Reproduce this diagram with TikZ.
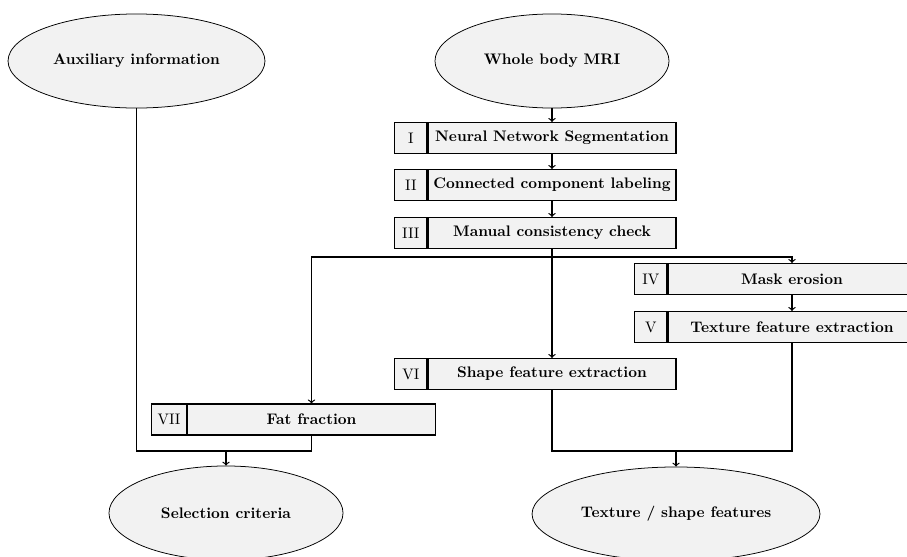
\documentclass[tikz,border=0pt]{standalone}
\usetikzlibrary{shapes.geometric}
\begin{document}
\begin{tikzpicture}[x=0.655pt,y=-0.655pt,
  ell/.style={ellipse,draw,line width=0.5pt,fill=gray!10,font=\bfseries,inner sep=0pt},
  mainbox/.style={rectangle,draw,line width=0.8pt,fill=gray!10,font=\bfseries,
    minimum width=162.4pt,minimum height=20.2pt,inner sep=0pt},
  numbox/.style={rectangle,draw,line width=0.8pt,fill=gray!10,
    minimum width=21pt,minimum height=20.2pt,inner xsep=3.8pt,inner ysep=0pt,anchor=east},
  conn/.style={line width=0.8pt},
  arr/.style={conn,->}]
\useasboundingbox (0,0) rectangle (907,556);
% ellipses
\node[ell,minimum width=168.3pt,minimum height=61.6pt] (aux) at (136.5,61) {Auxiliary information};
\node[ell,minimum width=153.3pt,minimum height=61.6pt] (mri) at (552,61) {Whole body MRI};
\node[ell,minimum width=153.3pt,minimum height=61.6pt] (sel) at (226,513) {Selection criteria};
\node[ell,minimum width=188.6pt,minimum height=61.6pt] (tex) at (676,514) {Texture / shape features};
% steps
\node[mainbox] (m1) at (552,138) {Neural Network Segmentation};
\node[numbox] (n1) at (m1.west) {I};
\node[mainbox] (m2) at (552,185) {Connected component labeling};
\node[numbox] (n2) at (m2.west) {II};
\node[mainbox] (m3) at (552,233) {Manual consistency check};
\node[numbox] (n3) at (m3.west) {III};
\node[mainbox] (m4) at (792,279) {Mask erosion};
\node[numbox] (n4) at (m4.west) {IV};
\node[mainbox] (m5) at (792,327) {Texture feature extraction};
\node[numbox] (n5) at (m5.west) {V};
\node[mainbox] (m6) at (552,374) {Shape feature extraction};
\node[numbox] (n6) at (m6.west) {VI};
\node[mainbox] (m7) at (311.5,419.5) {Fat fraction};
\node[numbox] (n7) at (m7.west) {VII};
% junctions
\coordinate (jT) at (552,257);
\coordinate (jL) at (226,451);
\coordinate (jB) at (676,451);
% connectors
\draw[arr] (mri.south) -- (m1.north);
\draw[arr] (m1.south) -- (m2.north);
\draw[arr] (m2.south) -- (m3.north);
\draw[arr] (m3.south) -- (m6.north);
\draw[arr] (jT) -| (m4.north);
\draw[arr] (jT) -| (m7.north);
\draw[arr] (m4.south) -- (m5.north);
\draw[conn] (aux.south) |- (jL);
\draw[conn] (m7.south) |- (jL);
\draw[arr] (jL) -- (sel.north);
\draw[conn] (m5.south) |- (jB);
\draw[conn] (m6.south) |- (jB);
\draw[arr] (jB) -- (tex.north);
\end{tikzpicture}
\end{document}
